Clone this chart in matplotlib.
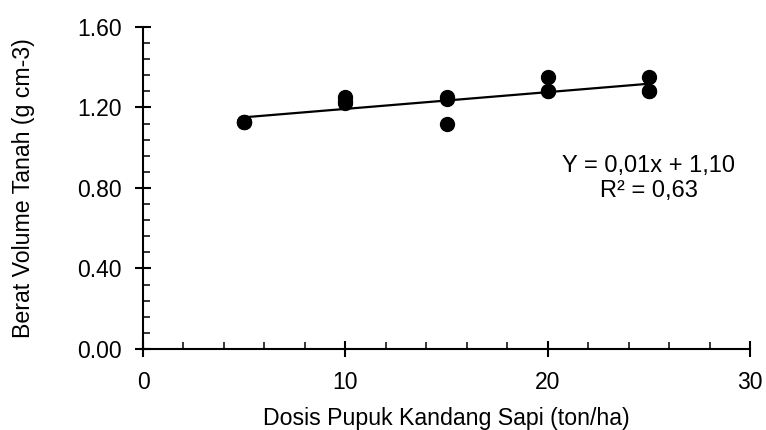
import numpy as np
import matplotlib
matplotlib.use('Agg')
import matplotlib.pyplot as plt
from matplotlib.ticker import MultipleLocator, FormatStrFormatter

plt.rcParams['font.family'] = ['Liberation Sans', 'DejaVu Sans']

# dosis pupuk kandang (ton/ha) dan berat volume tanah (g cm-3)
dosis = [5, 5, 5, 10, 10, 10, 15, 15, 15, 20, 20, 20, 25, 25, 25]
berat_volume = [1.13, 1.13, 1.13, 1.25, 1.22, 1.23, 1.25, 1.24, 1.12,
                1.35, 1.28, 1.28, 1.35, 1.28, 1.28]
persamaan = 'Y = 0,01x + 1,10'
r_kuadrat = 'R² = 0,63'

x = np.array(dosis)
y = np.array(berat_volume)
slope, intercept = np.polyfit(x, y, 1)

fig = plt.figure(figsize=(7.66, 4.3), dpi=100)
ax = fig.add_axes([0.1867, 0.1884, 0.7924, 0.7488])

ax.plot(x, y, 'o', color='black', markersize=10, zorder=3)
xl = np.array([x.min(), x.max()])
ax.plot(xl, slope * xl + intercept, color='black', linewidth=1.6)

ax.set_xlim(0, 30)
ax.set_ylim(0, 1.6)
ax.xaxis.set_major_locator(MultipleLocator(10))
ax.xaxis.set_minor_locator(MultipleLocator(2))
ax.yaxis.set_major_locator(MultipleLocator(0.4))
ax.yaxis.set_minor_locator(MultipleLocator(0.08))
ax.yaxis.set_major_formatter(FormatStrFormatter('%.2f'))

for s in ['top', 'right']:
    ax.spines[s].set_visible(False)
for s in ['left', 'bottom']:
    ax.spines[s].set_linewidth(1.5)

ax.tick_params(which='major', direction='inout', length=11, width=1.5, labelsize=16.5, pad=10)
ax.tick_params(which='minor', direction='in', length=5, width=1.1)

ax.set_xlabel('Dosis Pupuk Kandang Sapi (ton/ha)', fontsize=16.7, labelpad=10)
ax.set_ylabel('Berat Volume Tanah (g cm-3)', fontsize=16.7, labelpad=30)

ax.text(25, 0.88, persamaan, fontsize=17, ha='center', va='baseline')
ax.text(25, 0.755, r_kuadrat, fontsize=17, ha='center', va='baseline')

fig.savefig('out.png', dpi=100)
